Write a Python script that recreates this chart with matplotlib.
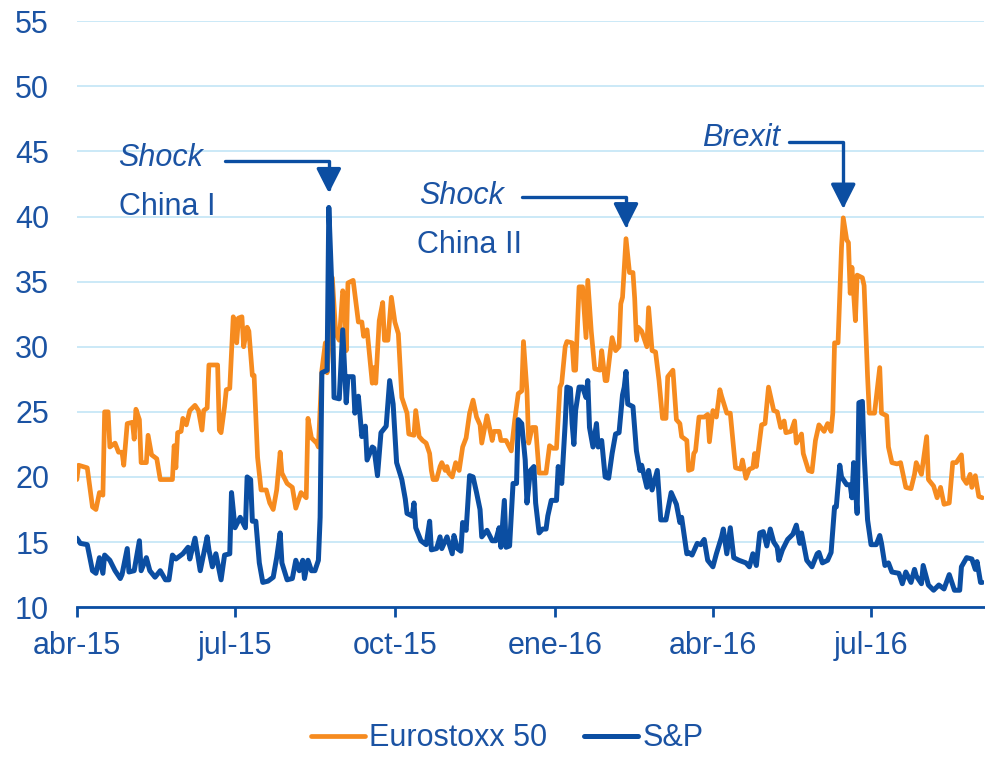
import numpy as np
import pandas as pd
import matplotlib
matplotlib.use('Agg')
import matplotlib.pyplot as plt

# days since 1 April 2015 and index level
eu_days = [0, 1, 6, 9, 11, 13, 15, 16, 18, 19, 22, 24, 26, 27, 29, 32, 33, 34, 36, 37,
           40, 41, 43, 46, 48, 55, 56, 57, 58, 60, 61, 63, 65, 68, 70, 72, 73, 75, 76, 78,
           81, 82, 83, 85, 86, 88, 90, 91, 92, 93, 95, 96, 98, 99, 101, 102, 104, 106, 109, 111,
           113, 115, 117, 118, 121, 124, 126, 129, 132, 133, 135, 138, 139, 141, 143, 144, 145, 147, 149, 151,
           153, 154, 155, 156, 159, 162, 164, 165, 167, 170, 171, 172, 174, 176, 177, 179, 181, 183, 185, 187,
           190, 191, 194, 195, 197, 199, 201, 203, 204, 205, 207, 209, 210, 212, 213, 214, 216, 218, 220, 222,
           224, 226, 228, 230, 232, 233, 236, 239, 240, 243, 244, 247, 250, 252, 254, 256, 257, 259, 260, 262,
           264, 266, 270, 272, 274, 276, 278, 279, 281, 282, 285, 286, 287, 289, 291, 293, 294, 296, 298, 301,
           302, 304, 305, 307, 308, 310, 312, 313, 314, 316, 318, 320, 321, 322, 323, 325, 328, 329, 331, 333,
           335, 337, 339, 340, 343, 345, 347, 348, 351, 352, 354, 355, 356, 358, 361, 363, 364, 366, 368, 370,
           371, 374, 376, 379, 382, 383, 385, 387, 389, 390, 391, 394, 396, 398, 401, 403, 405, 407, 408, 411,
           413, 414, 417, 418, 421, 423, 425, 427, 430, 432, 434, 435, 436, 438, 440, 441, 443, 444, 445, 446,
           448, 449, 452, 453, 455, 456, 459, 462, 463, 466, 467, 469, 472, 474, 477, 480, 482, 483, 486, 489,
           490, 493, 495, 497, 499, 502, 504, 506, 509, 510, 512, 514, 515, 517, 519, 521]
eu_vals = [19.8, 20.9, 20.7, 17.7, 17.5, 18.8, 18.6, 25.0, 25.0, 22.3, 22.6, 21.9, 21.9, 20.9, 24.1, 24.2, 22.9, 25.2, 24.4, 21.1,
           21.1, 23.2, 21.7, 21.4, 19.8, 19.8, 22.4, 20.7, 23.4, 23.5, 24.5, 24.0, 25.1, 25.5, 25.1, 23.6, 25.1, 25.3, 28.6, 28.6,
           28.6, 23.6, 23.4, 25.4, 26.7, 26.8, 32.3, 32.0, 30.3, 32.2, 32.3, 30.0, 31.5, 31.2, 27.8, 27.8, 21.5, 19.0, 19.0, 18.0,
           17.5, 19.0, 21.9, 20.3, 19.5, 19.2, 17.6, 18.8, 18.4, 24.5, 23.0, 22.6, 22.3, 28.2, 30.3, 28.0, 30.0, 35.3, 31.0, 30.5,
           34.3, 33.9, 29.7, 34.9, 35.1, 31.9, 31.9, 30.8, 31.3, 27.2, 28.4, 27.2, 32.0, 33.4, 30.5, 30.5, 33.8, 31.9, 31.0, 26.1,
           24.9, 23.3, 23.2, 25.1, 23.1, 22.8, 22.6, 21.8, 20.5, 19.8, 19.8, 20.8, 21.1, 20.5, 20.8, 20.3, 20.0, 21.1, 20.5, 22.3,
           23.0, 24.9, 25.9, 24.6, 24.0, 22.6, 24.7, 22.8, 23.5, 23.5, 22.8, 22.8, 22.0, 24.4, 26.4, 26.6, 30.4, 26.6, 22.6, 23.8,
           23.8, 20.3, 20.3, 22.4, 22.2, 22.2, 26.9, 27.2, 30.0, 30.4, 30.3, 28.2, 28.2, 34.6, 34.6, 30.7, 35.1, 31.2, 28.3, 28.2,
           29.7, 27.4, 27.4, 29.7, 30.7, 29.7, 30.0, 33.3, 33.8, 38.3, 35.7, 35.7, 33.7, 30.5, 31.5, 31.2, 30.0, 33.0, 29.7, 29.6,
           27.4, 24.5, 24.5, 27.7, 28.2, 24.4, 24.1, 23.1, 22.8, 20.5, 20.6, 21.8, 22.0, 24.6, 24.6, 24.8, 22.7, 25.1, 24.6, 26.7,
           26.2, 24.9, 24.9, 20.7, 20.6, 21.3, 19.9, 20.6, 20.7, 21.8, 20.8, 24.0, 24.1, 26.9, 25.1, 25.0, 23.8, 24.3, 23.4, 23.5,
           24.3, 22.6, 23.3, 21.8, 20.5, 20.4, 22.8, 24.0, 23.5, 24.1, 23.5, 24.9, 30.3, 30.3, 37.6, 39.9, 38.2, 38.0, 34.1, 36.1,
           32.0, 35.5, 35.3, 34.7, 27.7, 24.9, 24.9, 28.4, 24.9, 24.7, 22.3, 21.1, 21.0, 21.1, 19.2, 19.1, 20.2, 21.1, 20.2, 23.1,
           19.8, 19.3, 18.4, 19.2, 17.9, 18.0, 21.1, 21.1, 21.7, 19.9, 19.5, 20.2, 19.2, 20.1, 18.5, 18.4]

sp_days = [0, 2, 6, 9, 11, 13, 15, 16, 19, 22, 25, 26, 29, 30, 33, 36, 37, 40, 42, 45,
           48, 51, 53, 55, 57, 61, 64, 65, 68, 71, 75, 76, 78, 80, 83, 85, 88, 89, 91, 94,
           97, 98, 100, 101, 103, 105, 107, 110, 113, 115, 117, 118, 121, 124, 126, 128, 130, 131, 133, 135,
           137, 139, 140, 141, 144, 145, 147, 148, 151, 153, 155, 156, 159, 160, 162, 164, 166, 167, 170, 171,
           173, 175, 178, 180, 182, 184, 187, 189, 190, 193, 194, 195, 198, 201, 203, 204, 207, 209, 210, 213,
           216, 217, 219, 221, 222, 224, 226, 228, 230, 232, 233, 236, 239, 241, 243, 244, 246, 247, 249, 251,
           253, 254, 256, 258, 259, 261, 263, 264, 266, 268, 270, 271, 273, 276, 277, 279, 281, 282, 284, 285,
           286, 287, 289, 291, 293, 294, 295, 297, 299, 300, 302, 304, 306, 308, 310, 312, 314, 315, 316, 317,
           320, 322, 324, 325, 328, 329, 331, 334, 336, 339, 342, 345, 347, 348, 351, 352, 354, 357, 359, 361,
           363, 366, 368, 371, 372, 374, 376, 378, 381, 385, 387, 389, 391, 393, 395, 397, 399, 401, 403, 404,
           406, 409, 412, 414, 416, 417, 420, 423, 426, 427, 429, 432, 434, 436, 437, 439, 440, 443, 445, 446,
           447, 449, 450, 452, 453, 455, 457, 460, 462, 463, 465, 467, 469, 473, 475, 477, 480, 482, 483, 486,
           487, 490, 493, 496, 499, 502, 505, 508, 509, 512, 515, 517, 518, 520, 521]
sp_vals = [15.3, 14.9, 14.8, 12.8, 12.6, 13.8, 12.6, 14.0, 13.6, 12.8, 12.2, 12.5, 14.5, 12.7, 12.8, 15.1, 12.8, 13.8, 12.8, 12.3,
           12.8, 12.1, 12.1, 14.0, 13.7, 14.1, 14.6, 13.7, 15.3, 12.8, 15.4, 14.4, 13.1, 14.1, 12.1, 14.0, 14.1, 18.8, 16.1, 16.9,
           16.1, 20.0, 19.8, 16.6, 16.6, 13.4, 11.9, 12.0, 12.3, 13.8, 15.7, 13.4, 12.1, 12.2, 13.6, 12.8, 13.6, 12.2, 13.6, 12.8,
           12.8, 13.6, 16.9, 28.0, 28.2, 40.7, 33.6, 26.1, 26.0, 31.3, 25.7, 27.7, 27.7, 24.9, 26.2, 23.1, 23.9, 21.3, 22.3, 22.2,
           20.1, 23.4, 23.9, 27.4, 25.6, 21.1, 19.8, 18.3, 17.2, 17.0, 18.0, 16.1, 15.1, 14.8, 16.6, 14.4, 14.5, 15.4, 14.5, 15.4,
           14.1, 15.5, 14.5, 14.3, 16.5, 15.9, 20.1, 20.0, 18.8, 17.5, 15.4, 15.9, 15.1, 15.1, 16.1, 14.6, 18.2, 14.6, 14.7, 19.5,
           19.5, 24.4, 24.1, 21.3, 18.0, 20.5, 20.8, 18.0, 15.7, 16.0, 16.0, 17.0, 18.2, 18.2, 20.8, 19.5, 24.1, 26.9, 26.8, 24.1,
           22.5, 25.1, 26.9, 26.9, 26.1, 27.4, 23.8, 22.3, 24.1, 22.3, 22.8, 20.0, 19.9, 21.8, 23.3, 23.4, 26.3, 26.9, 28.1, 25.6,
           25.4, 22.0, 20.5, 20.9, 19.2, 20.5, 19.0, 20.5, 16.7, 16.7, 18.8, 17.9, 16.5, 16.9, 14.1, 14.2, 14.0, 14.9, 14.8, 15.2,
           13.6, 13.1, 14.1, 15.4, 16.0, 14.1, 16.1, 13.8, 13.6, 13.4, 13.1, 14.1, 13.2, 15.7, 15.8, 14.7, 16.0, 15.0, 14.6, 13.6,
           14.4, 15.2, 15.6, 16.3, 14.9, 15.7, 13.6, 13.1, 14.1, 14.2, 13.4, 13.6, 14.2, 17.7, 17.7, 20.9, 20.0, 19.4, 19.4, 18.4,
           21.1, 17.2, 25.7, 25.8, 21.8, 16.7, 14.8, 14.8, 15.5, 14.9, 13.2, 13.4, 12.7, 12.6, 11.8, 12.7, 11.9, 12.9, 12.4, 11.8,
           13.2, 11.7, 11.3, 11.7, 11.4, 12.5, 11.3, 11.3, 13.1, 13.8, 13.7, 12.9, 13.5, 11.9, 11.9]

tick_dates = ['2015-04-01', '2015-07-01', '2015-10-01', '2016-01-01', '2016-04-01', '2016-07-01']
tick_labels = ['abr-15', 'jul-15', 'oct-15', 'ene-16', 'abr-16', 'jul-16']

ORANGE = '#F68B1F'
BLUE = '#0B4EA2'
TEXT = '#1B53A3'
GRID = '#BDE3F5'

plt.rcParams['font.family'] = ['Liberation Sans', 'DejaVu Sans']
plt.rcParams['font.size'] = 22

start = pd.Timestamp('2015-04-01')


def to_dates(days):
    return start + pd.to_timedelta(np.asarray(days), unit='D')


def add_arrow(ax, x_from, y_from, x_to, y_to):
    # elbow arrow: horizontal then down to the peak
    ax.annotate('', xy=(x_to, y_to), xytext=(x_from, y_from),
                arrowprops=dict(arrowstyle='-|>,head_length=0.75,head_width=0.38',
                                connectionstyle='angle,angleA=0,angleB=90,rad=0',
                                color=BLUE, lw=2.4, shrinkA=0, shrinkB=0,
                                mutation_scale=20))


eu_x = to_dates(eu_days)
sp_x = to_dates(sp_days)
eu = np.asarray(eu_vals)
sp = np.asarray(sp_vals)
eu_d = np.asarray(eu_days)

fig = plt.figure(figsize=(9.85, 7.58), dpi=100)
ax = fig.add_axes([0.078, 0.199, 0.921, 0.773])

ax.plot(eu_x, eu, color=ORANGE, lw=3.4, label='Eurostoxx 50',
        solid_joinstyle='round', solid_capstyle='round')
ax.plot(sp_x, sp, color=BLUE, lw=3.6, label='S&P',
        solid_joinstyle='round', solid_capstyle='round')

ax.set_ylim(10, 55)
ax.set_yticks(np.arange(10, 56, 5))
ax.set_xlim(start, start + pd.Timedelta(days=522))
ax.set_xticks(pd.to_datetime(tick_dates))
ax.set_xticklabels(tick_labels)

ax.grid(axis='y', color=GRID, lw=1.1)
ax.set_axisbelow(True)
for side in ['left', 'right', 'top']:
    ax.spines[side].set_visible(False)
ax.spines['bottom'].set_color(BLUE)
ax.spines['bottom'].set_linewidth(2)
ax.tick_params(axis='y', length=0, pad=20, colors=TEXT, labelsize=22)
ax.tick_params(axis='x', length=7, width=2, color=BLUE, pad=10, colors=TEXT, labelsize=22)

# peaks the arrows point at
sp_peak = sp_x[np.argmax(sp)]
m2 = (eu_d > 280) & (eu_d < 350)
eu_peak2 = eu_x[m2][np.argmax(eu[m2])]
m3 = eu_d > 400
eu_peak3 = eu_x[m3][np.argmax(eu[m3])]

ax.text(start + pd.Timedelta(days=24), 44.5, 'Shock', style='italic', color=TEXT,
        ha='left', va='center')
ax.text(start + pd.Timedelta(days=24), 40.7, 'China I', color=TEXT, ha='left', va='center')
add_arrow(ax, start + pd.Timedelta(days=85), 44.3, sp_peak, 41.8)

ax.text(start + pd.Timedelta(days=197), 41.6, 'Shock', style='italic', color=TEXT,
        ha='left', va='center')
ax.text(start + pd.Timedelta(days=196), 37.8, 'China II', color=TEXT, ha='left', va='center')
add_arrow(ax, start + pd.Timedelta(days=256), 41.5, eu_peak2, 39.1)

ax.text(start + pd.Timedelta(days=360), 46.0, 'Brexit', style='italic', color=TEXT,
        ha='left', va='center')
add_arrow(ax, start + pd.Timedelta(days=410), 45.7, eu_peak3, 40.6)

leg = fig.legend(loc='center', bbox_to_anchor=(0.515, 0.026), ncol=2, frameon=False,
                 handlelength=1.75, handletextpad=0.15, columnspacing=1.2, fontsize=22,
                 borderpad=0.1)
for t in leg.get_texts():
    t.set_color(TEXT)

fig.savefig('out.png', dpi=100)
